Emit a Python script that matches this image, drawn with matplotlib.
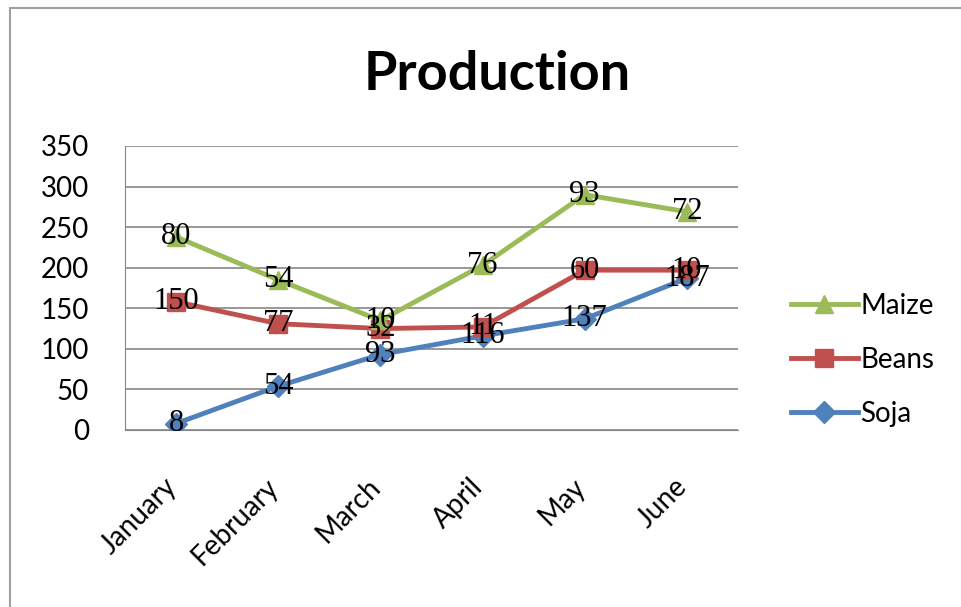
import numpy as np
import matplotlib
matplotlib.use('Agg')
import matplotlib.pyplot as plt
from matplotlib import patches
from matplotlib.transforms import ScaledTranslation

months = ["January", "February", "March", "April", "May", "June"]
soja = [8, 54, 93, 116, 137, 187]
beans = [150, 77, 32, 11, 60, 10]
maize = [80, 54, 10, 76, 93, 72]

# stacked line chart: each series sits on top of the previous ones
soja_top = np.array(soja)
beans_top = soja_top + np.array(beans)
maize_top = beans_top + np.array(maize)

fig = plt.figure(figsize=(9.61, 6.07), dpi=100)
ax = fig.add_axes([125 / 961, 1 - 430 / 607, (738 - 125) / 961, (430 - 146) / 607])

# outer chart frame
fig.patches.append(patches.Rectangle((10 / 961, -0.01), 1.0, 1 - 8 / 607 + 0.01,
                                     transform=fig.transFigure, fill=False,
                                     edgecolor="#a0a0a0", linewidth=1.5))

x = np.arange(len(months))
series = [
    ("Soja", soja, soja_top, "#4F81BD", "D", 11),
    ("Beans", beans, beans_top, "#C0504D", "s", 13),
    ("Maize", maize, maize_top, "#9BBB59", "^", 13),
]
handles = {}
for name, vals, tops, col, mk, ms in series:
    h, = ax.plot(x, tops, color=col, linewidth=3.5, marker=mk, markersize=ms,
                 markeredgecolor=col, label=name, zorder=3)
    handles[name] = h
for name, vals, tops, col, mk, ms in series:
    for xi, yi, v in zip(x, tops, vals):
        ax.text(xi, yi, str(v), ha="center", va="center", fontsize=22,
                family="Liberation Serif", color="black", zorder=5)

ax.set_xlim(-0.5, 5.5)
ax.set_ylim(0, 350)
ax.set_yticks(range(0, 351, 50))
ax.yaxis.grid(True, color="#868686", linewidth=1.2)
ax.set_axisbelow(True)
for s in ["top", "right"]:
    ax.spines[s].set_visible(False)
ax.spines["left"].set_color("#868686")
ax.spines["bottom"].set_color("#868686")
ax.tick_params(axis="y", length=0, labelsize=20, pad=26)
ax.tick_params(axis="x", length=0, labelsize=20, pad=24)
ax.set_xticks(x)
ax.set_xticklabels(months, rotation=45, ha="right", rotation_mode="anchor",
                   family="Lato")
shift = ScaledTranslation(-0.13, -0.1, fig.dpi_scale_trans)
for lab in ax.get_xticklabels():
    lab.set_transform(lab.get_transform() + shift)
for lab in ax.get_yticklabels():
    lab.set_family("Lato")

fig.text(497 / 961, 1 - 74 / 607, "Production", ha="center", va="center",
         fontsize=39, fontweight="bold", family="Lato")

fig.legend([handles["Maize"], handles["Beans"], handles["Soja"]],
           ["Maize", "Beans", "Soja"], loc="center left",
           bbox_to_anchor=(766 / 961, 1 - 360 / 607), frameon=False,
           prop={"family": "Lato", "size": 20}, labelspacing=1.0,
           handlelength=2.4, handletextpad=0.1)

plt.savefig("out.png", dpi=100)
